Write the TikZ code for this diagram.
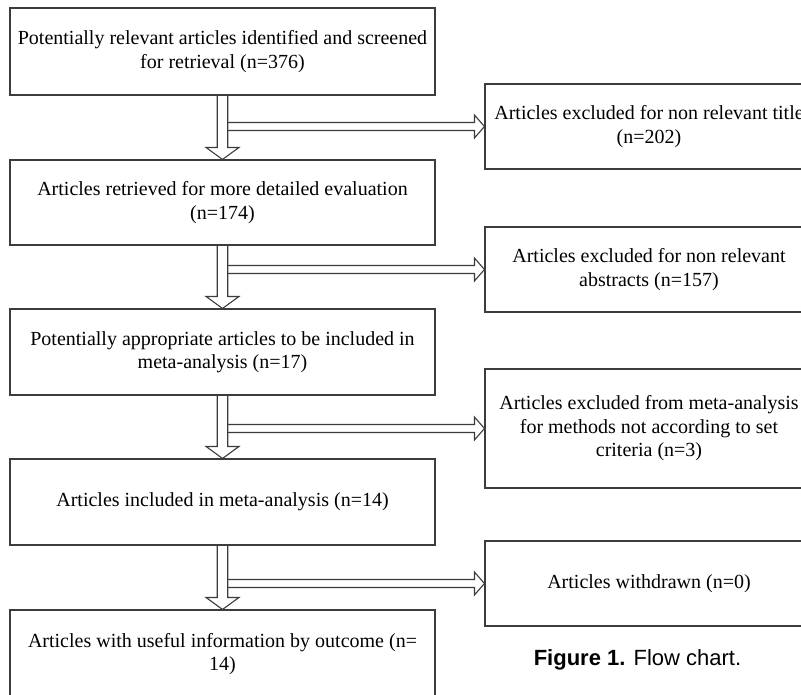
\documentclass[tikz,border=0pt]{standalone}
\usepackage{fontspec}
\setmainfont{Liberation Serif}
\newfontfamily\capfont{Liberation Sans}
\usetikzlibrary{calc}
\definecolor{linegray}{HTML}{3C3C3C}
\newcommand\flowarrows[3]{%
  \draw[hollow] ($(#1.south |- #3.west)+(5.25,-4)$) -- ($(#3.west)+(-10,-4)$) -- ($(#3.west)+(-10,-11.5)$) -- (#3.west) -- ($(#3.west)+(-10,11.5)$) -- ($(#3.west)+(-10,4)$) -- ($(#1.south |- #3.west)+(5.25,4)$);
  \draw[hollow] ($(#1.south)+(-5.25,0)$) -- ($(#2.north)+(-5.25,-12)$) -- ($(#2.north)+(-16.5,-12)$) -- (#2.north) -- ($(#2.north)+(16.5,-12)$) -- ($(#2.north)+(5.25,-12)$) -- ($(#1.south)+(5.25,0)$);
}
\begin{document}
\begin{tikzpicture}[x=1pt,y=-1pt,
  box/.style={draw=linegray, line width=1.1pt, rectangle, inner sep=0pt, align=center,
              font=\fontsize{20}{23.5}\selectfont, text=black},
  lbox/.style={box, minimum width=425pt, minimum height=86pt},
  rbox/.style={box, minimum width=328pt, minimum height=85pt},
  hollow/.style={draw=linegray, line width=1.1pt, line join=miter}]
\useasboundingbox (0,0) rectangle (801,694);
\clip (0,0) rectangle (801,694);
\fill[white] (0,0) rectangle (801,694);
% left column
\node[lbox, minimum height=87pt] (b1) at (222.5,51.5) {Potentially relevant articles identified and screened\\for retrieval (n=376)};
\node[lbox, minimum height=85pt] (b2) at (222.5,202.5) {Articles retrieved for more detailed evaluation\\(n=174)};
\node[lbox] (b3) at (222.5,352) {Potentially appropriate articles to be included in\\meta-analysis (n=17)};
\node[lbox] (b4) at (222.5,502) {Articles included in meta-analysis (n=14)};
\node[lbox, minimum height=88pt] (b5) at (222.5,654) {Articles with useful information by outcome (n=\\14)};
% right column
\node[rbox] (r1) at (649,126.5) {Articles excluded for non relevant title\\(n=202)};
\node[rbox] (r2) at (649,269.5) {Articles excluded for non relevant\\abstracts (n=157)};
\node[rbox, minimum height=119pt] (r3) at (649,428.5) {Articles excluded from meta-analysis\\for methods not according to set\\criteria (n=3)};
\node[rbox] (r4) at (649,583.5) {Articles withdrawn (n=0)};
% arrows
\flowarrows{b1}{b2}{r1}
\flowarrows{b2}{b3}{r2}
\flowarrows{b3}{b4}{r3}
\flowarrows{b4}{b5}{r4}
% caption
\node[font=\capfont\fontsize{22}{26}\selectfont, anchor=base, inner sep=0pt] (cap) at (637.5,665) {\textbf{Figure 1.} Flow chart.};
\end{tikzpicture}
\end{document}
